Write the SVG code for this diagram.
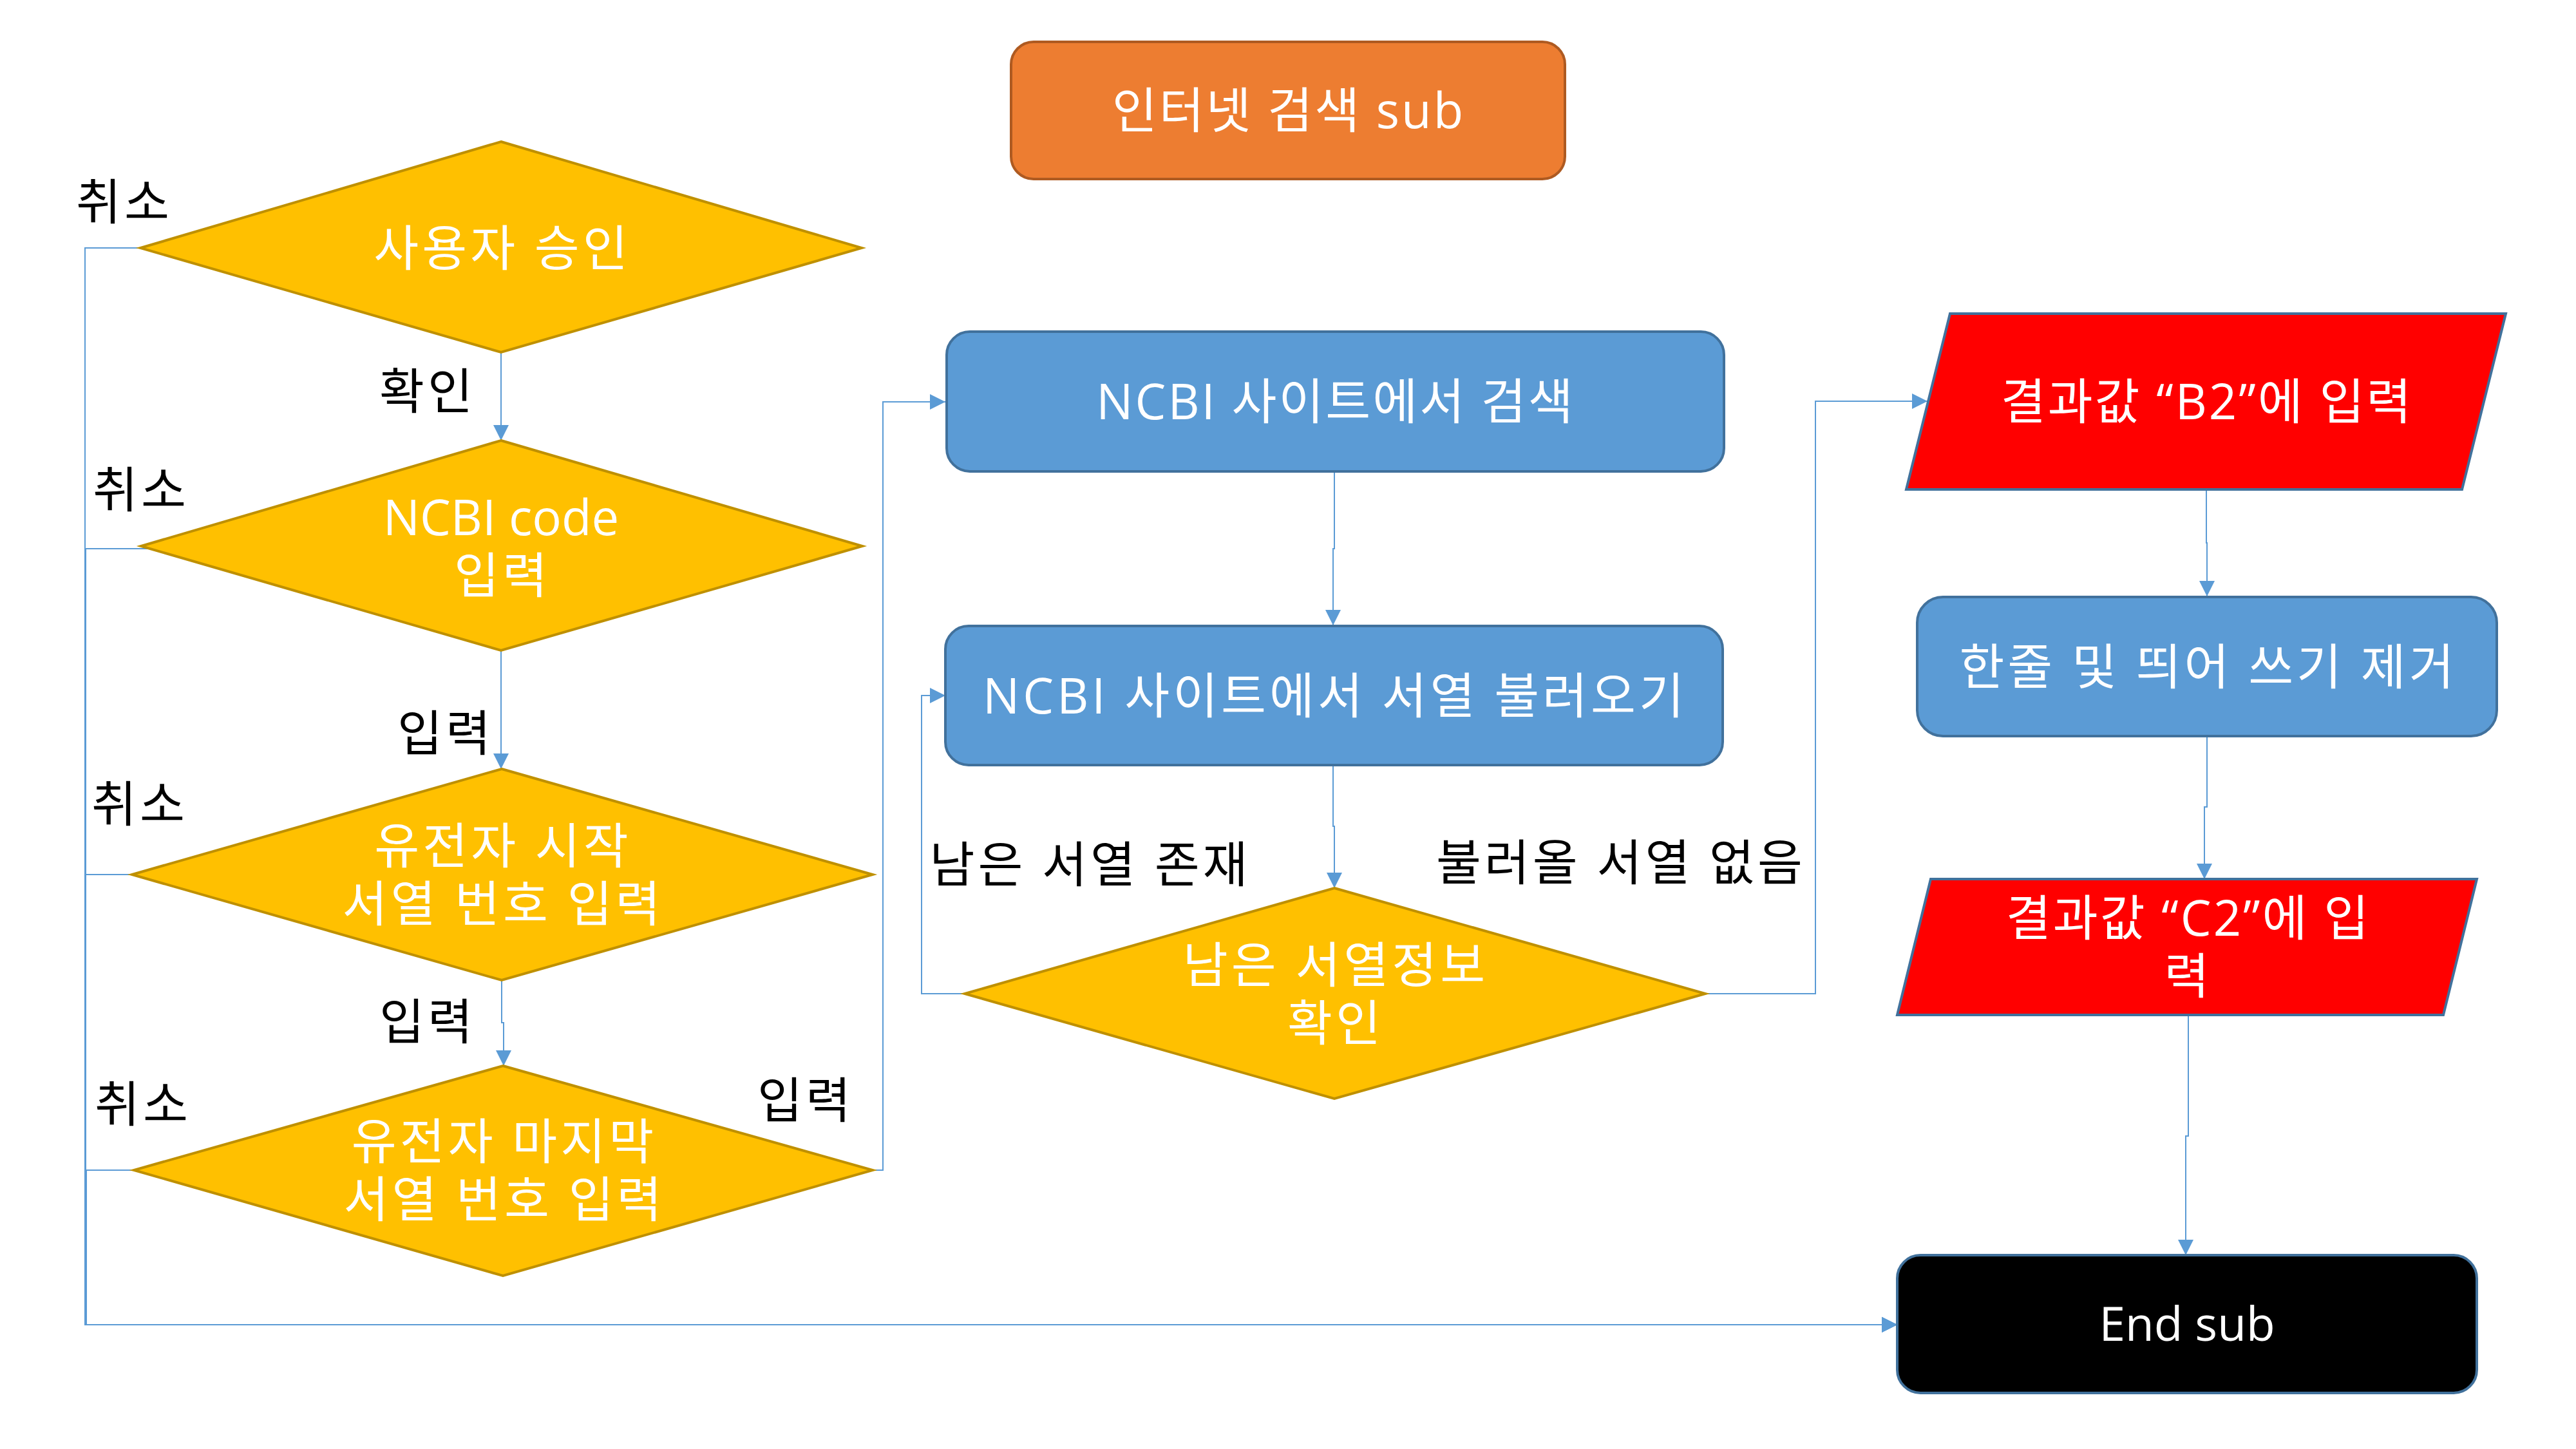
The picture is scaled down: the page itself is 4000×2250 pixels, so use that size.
<svg xmlns="http://www.w3.org/2000/svg" width="4000" height="2250" viewBox="0 0 4000 2250">
<defs>
<marker id="arr" markerUnits="userSpaceOnUse" markerWidth="24" markerHeight="24" refX="24" refY="12" orient="auto">
<path d="M0,0 L24,12 L0,24 z" fill="#5B9BD5"/>
</marker>
<style>
text{font-family:"Open Sans","Noto Sans CJK KR",sans-serif;font-size:76px;text-anchor:middle;letter-spacing:5px}
.w{fill:#FFFFFF}
.k{fill:#000000}
.ls3{letter-spacing:3px}
.ls0{letter-spacing:0px}
.lat{letter-spacing:0px;font-size:73px}
.dia{fill:#FFC000;stroke:#BF9000;stroke-width:4}
.blue{fill:#5B9BD5;stroke:#41719C;stroke-width:4}
.red{fill:#FF0000;stroke:#41719C;stroke-width:4}
.blk{fill:#000000;stroke:#41719C;stroke-width:4}
.org{fill:#ED7D31;stroke:#AE5A21;stroke-width:4}
.ca{fill:none;stroke:#5B9BD5;stroke-width:2;marker-end:url(#arr)}
</style>
</defs>
<rect width="4000" height="2250" fill="#FFFFFF"/>

<g id="start">
<rect class="org" x="1570" y="65" width="860" height="213" rx="35"/>
<text class="w ls3" x="2001" y="199">인터넷 검색 sub</text>
</g>

<g id="connectors">
<path class="ca" d="M778,547 V684"/>
<path class="ca" d="M778,1010 V1194"/>
<path class="ca" d="M779,1522 V1588 H782 V1655"/>
<path class="ca" d="M1355,1817 H1371 V624 H1468"/>
<path class="ca" d="M2072,732 V852 H2070 V971"/>
<path class="ca" d="M2070,1188 V1283 H2072 V1379"/>
<path class="ca" d="M1498,1543 H1431 V1080 H1468"/>
<path class="ca" d="M2648,1543 H2819 V623 H2993"/>
<path class="ca" d="M3426,760 V843 H3427 V926"/>
<path class="ca" d="M3427,1143 V1253 H3423 V1365"/>
<path class="ca" d="M3398,1576 V1764 H3394 V1949"/>
<path class="ca" d="M244,385 H132 V2057 H2946"/>
<path class="ca" d="M245,852 H133 V2057 H2946"/>
<path class="ca" d="M248,1358 H133 V2057 H2946"/>
<path class="ca" d="M208,1817 H134 V2057 H2946"/>
</g>

<g id="d1">
<polygon class="dia" points="778,220 1338,385 778,547 218,385"/>
<text class="w" x="780" y="413">사용자 승인</text>
</g>
<g id="d2">
<polygon class="dia" points="778,684 1339,848 778,1010 219,848"/>
<text class="w ls0" x="778" y="831">NCBI code</text>
<text class="w" x="780" y="921">입력</text>
</g>
<g id="d3">
<polygon class="dia" points="779,1194 1355,1358 779,1522 205,1358"/>
<text class="w" x="781" y="1341">유전자 시작</text>
<text class="w" x="781" y="1431">서열 번호 입력</text>
</g>
<g id="d4">
<polygon class="dia" points="781,1655 1355,1817 781,1981 208,1817"/>
<text class="w" x="783" y="1800">유전자 마지막</text>
<text class="w" x="783" y="1890">서열 번호 입력</text>
</g>
<g id="b1">
<rect class="blue" x="1470" y="515" width="1207" height="217" rx="36"/>
<text class="w ls3" x="2074" y="651">NCBI 사이트에서 검색</text>
</g>
<g id="b2">
<rect class="blue" x="1468" y="972" width="1207" height="216" rx="36"/>
<text class="w" x="2073" y="1108">NCBI 사이트에서 서열 불러오기</text>
</g>
<g id="d5">
<polygon class="dia" points="2072,1379 2648,1543 2072,1706 1498,1543"/>
<text class="w" x="2074" y="1526">남은 서열정보</text>
<text class="w" x="2074" y="1616">확인</text>
</g>
<g id="p1">
<polygon class="red" points="3028,487 3891,487 3823,760 2960,760"/>
<text class="w ls3" x="3427" y="651">결과값 “B2”에 입력</text>
</g>
<g id="b3">
<rect class="blue" x="2977" y="927" width="900" height="216" rx="40"/>
<text class="w" x="3429" y="1063">한줄 및 띄어 쓰기 제거</text>
</g>
<g id="p2">
<polygon class="red" points="2998,1365 3846,1365 3794,1576 2946,1576"/>
<text class="w ls3" x="3398" y="1453">결과값 “C2”에 입</text>
<text class="w" x="3398" y="1543">력</text>
</g>
<g id="end">
<rect class="blk" x="2946" y="1949" width="900" height="214" rx="36"/>
<text class="w lat" x="3396" y="2082">End sub</text>
</g>

<g id="labels">
<text class="k" x="193" y="341">취소</text>
<text class="k" x="219" y="788">취소</text>
<text class="k" x="217" y="1276">취소</text>
<text class="k" x="222" y="1742">취소</text>
<text class="k" x="664" y="635">확인</text>
<text class="k" x="692" y="1166">입력</text>
<text class="k" x="664" y="1614">입력</text>
<text class="k" x="1251" y="1736">입력</text>
<text class="k" x="1693" y="1370">남은 서열 존재</text>
<text class="k" x="2517" y="1367">불러올 서열 없음</text>
</g>
</svg>
